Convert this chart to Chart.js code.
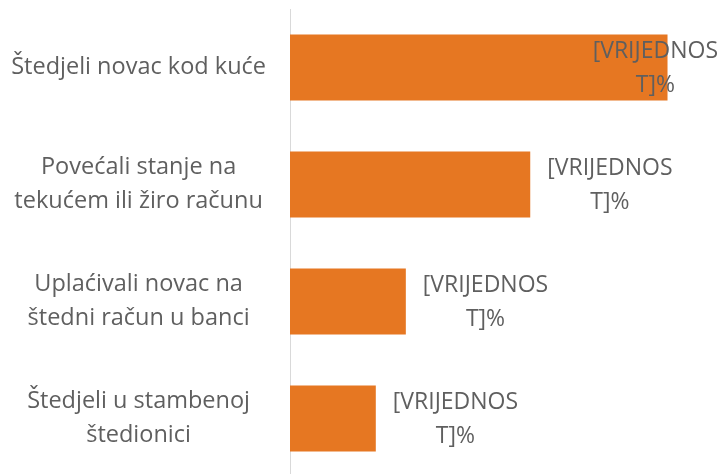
<!DOCTYPE html>
<html><head><meta charset="utf-8">
<script src="https://cdn.jsdelivr.net/npm/chart.js@4/dist/chart.umd.min.js"></script>
<style>
html,body{margin:0;padding:0;background:#fff;overflow:hidden;width:721px;height:474px;}
#wrap{position:absolute;left:0;top:0;width:721px;height:480px;}
</style></head>
<body>
<div id="wrap"><canvas id="c" width="721" height="480"></canvas></div>
<script>
const categories = [
  ["Štedjeli novac kod kuće"],
  ["Povećali stanje na", "tekućem ili žiro računu"],
  ["Uplaćivali novac na", "štedni račun u banci"],
  ["Štedjeli u stambenoj", "štedionici"]
];
const values = [44, 28, 13.5, 10];
const dataLabelLines = ["[VRIJEDNOS", "T]%"];

const FONT = "Open Sans";
const labelPlugin = {
  id: 'barLabels',
  afterDatasetsDraw(chart) {
    const ctx = chart.ctx;
    const meta = chart.getDatasetMeta(0);
    ctx.save();
    ctx.font = "23px '" + FONT + "'";
    ctx.fillStyle = "#5f5f5f";
    ctx.textAlign = "center";
    ctx.textBaseline = "middle";
    const w = Math.max(...dataLabelLines.map(s => ctx.measureText(s).width));
    meta.data.forEach((bar) => {
      let cx = bar.x + 17 + w / 2;
      if (cx + w / 2 > chart.width - 3) cx = chart.width - 3 - w / 2;
      ctx.fillText(dataLabelLines[0], cx, bar.y - 16);
      ctx.fillText(dataLabelLines[1], cx, bar.y + 18);
    });
    ctx.restore();
  }
};

new Chart(document.getElementById('c'), {
  type: 'bar',
  data: {
    labels: categories,
    datasets: [{
      data: values,
      backgroundColor: '#E67722',
      borderWidth: 0,
      barPercentage: 0.564,
      categoryPercentage: 1
    }]
  },
  options: {
    indexAxis: 'y',
    responsive: false,
    animation: false,
    layout: { padding: { top: 9, bottom: 3, right: 2, left: 0 } },
    plugins: { legend: { display: false }, tooltip: { enabled: false } },
    scales: {
      x: { display: false, min: 0, max: 50 },
      y: {
        grid: { display: false, drawTicks: false },
        border: { display: true, color: '#d9d9d9', width: 1 },
        ticks: { color: '#5f5f5f', font: { family: FONT, size: 23.5, lineHeight: 1.45 }, padding: 24, crossAlign: 'center' },
        afterFit(scale) { scale.width = 290; scale.paddingTop = 0; scale.paddingBottom = 0; }
      }
    }
  },
  plugins: [labelPlugin]
});
</script>
</body></html>
